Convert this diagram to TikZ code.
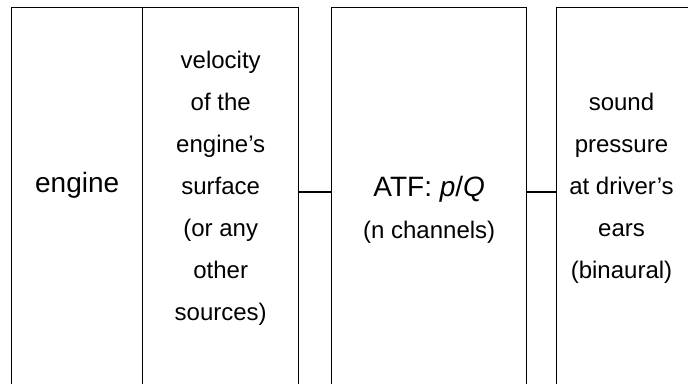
\documentclass[tikz,border=0pt]{standalone}
\usepackage{fontspec}
\setmainfont{Liberation Sans}

\tikzset{
	box/.style={draw, line width=1.4pt, rectangle, anchor=north west, minimum height=400pt},
	txt/.style={align=center, font=\fontsize{24}{42}\selectfont},
	big/.style={align=center, font=\fontsize{28}{42}\selectfont}
}

\begin{document}
\begin{tikzpicture}[x=1pt, y=-1pt]

	\useasboundingbox (0,0) rectangle (688,383);
	\clip (0,0) rectangle (688,383);

	\node[box, minimum width=131pt] (engbox) at (11,7) {};
	\node[box, minimum width=156pt] (velbox) at (142,7) {};
	\node[box, minimum width=195pt] (atfbox) at (331,7) {};
	\node[box, minimum width=200pt] (earbox) at (556,7) {};
	\coordinate (mid) at (0,192);

	\node[big, anchor=base] (eng) at (engbox.center |- 0,192) {engine};
	\node[txt] (vel) at (velbox.center |- 0,188) {velocity\\of the\\engine’s\\surface\\(or any\\other\\sources)};
	\node[big] (atf) at (atfbox.center |- 0,210) {ATF: \textit{p}/\textit{Q}\\\fontsize{24}{42}\selectfont(n channels)};
	\node[txt] (ear) at (621.5,188) {sound\\pressure\\at driver’s\\ears\\(binaural)};

	\path (velbox.east |- mid) edge[line width=1.4pt] (atfbox.west |- mid);
	\path (atfbox.east |- mid) edge[line width=1.4pt] (earbox.west |- mid);
\end{tikzpicture}
\end{document}
